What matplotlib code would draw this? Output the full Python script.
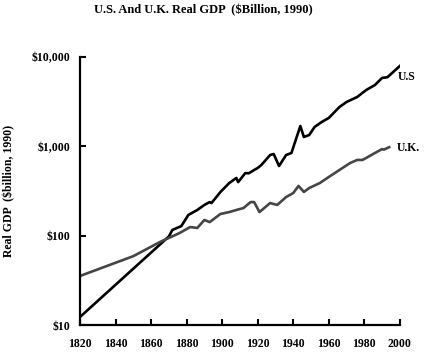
import matplotlib
matplotlib.use("Agg")
import matplotlib.pyplot as plt

plt.rcParams['font.family'] = ['Liberation Serif', 'DejaVu Serif']
plt.rcParams['font.weight'] = 'bold'
plt.rcParams['axes.labelweight'] = 'bold'

# values ($ billion, 1990)
us_years = [1820, 1870, 1872, 1877, 1881, 1886, 1890, 1893, 1894, 1899, 1904, 1908, 1909,
            1913, 1915, 1918, 1920, 1922, 1927, 1929, 1932, 1936, 1939, 1944, 1946, 1949,
            1952, 1956, 1960, 1966, 1970, 1976, 1981, 1986, 1990, 1993, 2000]
us_gdp = [12.3, 98, 116, 128, 171, 194, 221, 238, 232, 308, 389, 443, 398,
          502, 500, 544, 573, 617, 801, 822, 603, 801, 844, 1691, 1274, 1342,
          1648, 1875, 2080, 2760, 3140, 3575, 4270, 4870, 5840, 5950, 7943]

uk_years = [1820, 1850, 1865, 1876, 1882, 1886, 1890, 1893, 1899, 1904, 1908, 1912,
            1916, 1918, 1921, 1927, 1931, 1936, 1940, 1943, 1946, 1949, 1955, 1960,
            1966, 1972, 1976, 1979, 1981, 1986, 1990, 1991, 1994]
uk_gdp = [35.4, 59, 85, 107, 125, 122, 150, 142, 175, 184, 194, 204,
          238, 238, 184, 232, 221, 271, 300, 361, 309, 342, 389, 454,
          544, 651, 705, 705, 741, 844, 933, 920, 980]

xticks = list(range(1820, 2001, 20))
yticks = [10, 100, 1000, 10000]
ytick_labels = ['$10', '$100', '$1,000', '$10,000']

fig = plt.figure(figsize=(4.24, 3.59), dpi=100)
ax = fig.add_axes([0.1887, 0.0947, 0.7543, 0.7463])

ax.plot(us_years, us_gdp, color='black', lw=1.9)
ax.plot(uk_years, uk_gdp, color='#454545', lw=1.9)

ax.set_yscale('log')
ax.set_xlim(1820, 2000)
ax.set_ylim(10, 10000)
ax.set_xticks(xticks)
ax.set_xticklabels([str(x) for x in xticks])
ax.set_yticks(yticks)
ax.set_yticklabels(ytick_labels)
ax.minorticks_off()
ax.tick_params(direction='in', length=4, width=1.5, labelsize=8.5)
ax.tick_params(axis='x', pad=9)
ax.tick_params(axis='y', pad=7)

for s in ['top', 'right']:
    ax.spines[s].set_visible(False)
for s in ['left', 'bottom']:
    ax.spines[s].set_linewidth(1.6)

ax.text(1998.9, 5980, 'U.S', fontsize=8.5, va='center', ha='left', clip_on=False)
ax.text(1998.3, 960, 'U.K.', fontsize=8.5, va='center', ha='left', clip_on=False)

ax.set_ylabel('Real GDP  ($billion, 1990)', fontsize=8.5, fontweight='bold', labelpad=12)
fig.text(0.48, 0.972, 'U.S. And U.K. Real GDP  ($Billion, 1990)', fontsize=9,
         fontweight='bold', ha='center', va='center')

fig.savefig('out.png', dpi=100)
